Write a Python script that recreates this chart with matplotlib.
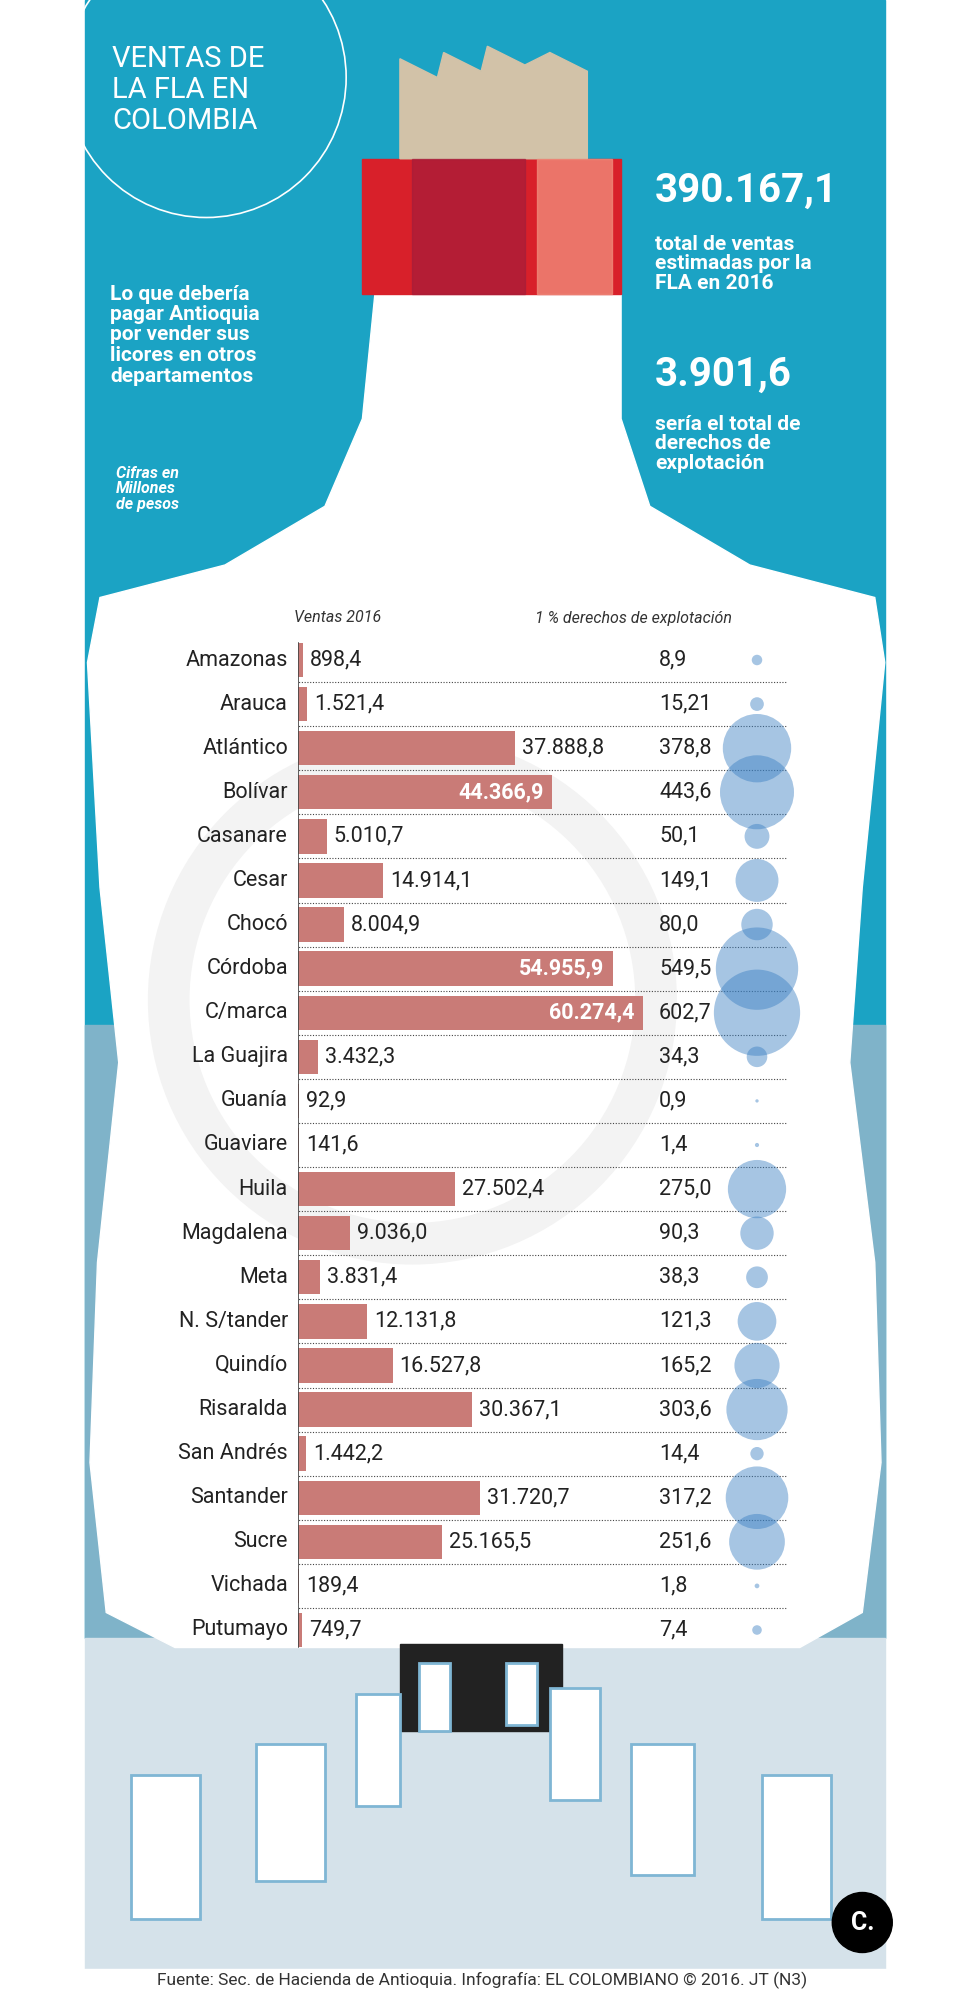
import matplotlib.pyplot as plt
from matplotlib.patches import Polygon, Circle, Rectangle
import numpy as np

plt.rcParams['font.family'] = ['Roboto', 'DejaVu Sans']

departamentos = ['Amazonas', 'Arauca', 'Atlántico', 'Bolívar', 'Casanare', 'Cesar', 'Chocó',
                 'Córdoba', 'C/marca', 'La Guajira', 'Guanía', 'Guaviare', 'Huila', 'Magdalena',
                 'Meta', 'N. S/tander', 'Quindío', 'Risaralda', 'San Andrés', 'Santander',
                 'Sucre', 'Vichada', 'Putumayo']
ventas = [898.4, 1521.4, 37888.8, 44366.9, 5010.7, 14914.1, 8004.9, 54955.9, 60274.4,
          3432.3, 92.9, 141.6, 27502.4, 9036.0, 3831.4, 12131.8, 16527.8, 30367.1,
          1442.2, 31720.7, 25165.5, 189.4, 749.7]
derechos = [8.9, 15.21, 378.8, 443.6, 50.1, 149.1, 80.0, 549.5, 602.7, 34.3, 0.9, 1.4,
            275.0, 90.3, 38.3, 121.3, 165.2, 303.6, 14.4, 317.2, 251.6, 1.8, 7.4]
ventas_txt = ['898,4', '1.521,4', '37.888,8', '44.366,9', '5.010,7', '14.914,1', '8.004,9',
              '54.955,9', '60.274,4', '3.432,3', '92,9', '141,6', '27.502,4', '9.036,0',
              '3.831,4', '12.131,8', '16.527,8', '30.367,1', '1.442,2', '31.720,7',
              '25.165,5', '189,4', '749,7']
derechos_txt = ['8,9', '15,21', '378,8', '443,6', '50,1', '149,1', '80,0', '549,5', '602,7',
                '34,3', '0,9', '1,4', '275,0', '90,3', '38,3', '121,3', '165,2', '303,6',
                '14,4', '317,2', '251,6', '1,8', '7,4']
dentro = ['Bolívar', 'Córdoba', 'C/marca']

# decoration layer in 773x1600 units
W, H = 773, 1600
fig = plt.figure(figsize=(9.66, 20), dpi=100)
bg = fig.add_axes([0, 0, 1, 1])
bg.set_xlim(0, W); bg.set_ylim(H, 0); bg.axis('off')

bg.add_patch(Rectangle((68, 0), 640, 1310, color='#1ba3c4'))
bg.add_patch(Rectangle((68, 820), 640, 490, color='#7fb3c9'))
bg.add_patch(Rectangle((68, 1310), 640, 265, color='#d5e2ea'))
body = [(300, 235), (497, 235), (497, 335), (520, 405), (600, 452), (700, 478), (708, 530),
        (690, 710), (680, 850), (700, 1010), (705, 1170), (690, 1290), (640, 1318),
        (140, 1318), (85, 1290), (72, 1170), (78, 1010), (95, 850), (80, 710), (70, 530),
        (80, 478), (180, 452), (260, 405), (290, 335)]
bg.add_patch(Polygon(body, closed=True, color='white', zorder=1))
bg.add_patch(Circle((330, 800), 195, fill=False, ec='#f3f3f3', lw=30, zorder=1.1))
bg.add_patch(Rectangle((290, 127), 207, 108, color='#d8202a', zorder=2))
bg.add_patch(Rectangle((330, 127), 90, 108, color='#a51d3b', zorder=2.1, alpha=0.7))
bg.add_patch(Rectangle((430, 127), 60, 108, color='#f08a7a', zorder=2.1, alpha=0.8))
bg.add_patch(Polygon([(320, 127), (320, 47), (350, 62), (355, 42), (385, 57), (390, 37),
                      (420, 52), (440, 42), (470, 57), (470, 127)], color='#d2c2a8', zorder=2))
for cx, cy, w_, h_ in [(105, 1420, 55, 115), (205, 1395, 55, 110), (285, 1355, 35, 90),
                       (335, 1330, 25, 55), (405, 1330, 25, 50), (440, 1350, 40, 90),
                       (505, 1395, 50, 105), (610, 1420, 55, 115)]:
    bg.add_patch(Rectangle((cx, cy), w_, h_, fc='white', ec='#7fb6d4', lw=2, zorder=3))
bg.add_patch(Rectangle((320, 1315), 130, 70, color='#222222', zorder=2))
bg.add_patch(Rectangle((0, 1575), W, 25, color='white', zorder=4))

bg.add_patch(Circle((165, 62), 112, fill=False, ec='white', lw=1.2, zorder=3))
bg.text(90, 72, 'VENTAS DE\nLA FLA EN\nCOLOMBIA', color='white', fontsize=21,
        va='center', ha='left', linespacing=1.15, zorder=5)
bg.text(88, 268, 'Lo que debería\npagar Antioquia\npor vender sus\nlicores en otros\ndepartamentos',
        color='white', fontsize=15, fontweight='bold', va='center', linespacing=1.1, zorder=5)
bg.text(93, 391, 'Cifras en\nMillones\nde pesos', color='white', fontsize=11.5,
        fontweight='bold', style='italic', va='center', linespacing=1.05, zorder=5)
bg.text(524, 153, '390.167,1', color='white', fontsize=29, fontweight='bold', va='center', zorder=5)
bg.text(524, 211, 'total de ventas\nestimadas por la\nFLA en 2016', color='white',
        fontsize=15, fontweight='bold', va='center', linespacing=1.05, zorder=5)
bg.text(524, 300, '3.901,6', color='white', fontsize=29, fontweight='bold', va='center', zorder=5)
bg.text(524, 355, 'sería el total de\nderechos de\nexplotación', color='white',
        fontsize=15, fontweight='bold', va='center', linespacing=1.05, zorder=5)
bg.text(235, 498, 'Ventas 2016', fontsize=11.5, style='italic', color='#333333', zorder=5)
bg.text(428, 498, '1 % derechos de explotación', fontsize=11.5, style='italic', color='#333333', zorder=5)
bg.text(386, 1584, 'Fuente: Sec. de Hacienda de Antioquia. Infografía: EL COLOMBIANO © 2016. JT (N3)',
        fontsize=12.5, ha='center', va='center', color='#333333', zorder=5)
bg.add_patch(Circle((690, 1538), 24, color='black', zorder=6))
bg.text(690, 1538, 'C.', color='white', fontsize=18, fontweight='bold', ha='center', va='center', zorder=7)

# bar chart, placed in original 966x2000 pixels
PW, PH = 966, 2000
x0, xend = 298, 643
step = (1630 - 660) / 22
top, bot = 660 - step / 2, 1630 + step / 2
ax = fig.add_axes([x0 / PW, 1 - bot / PH, (PW - x0) / PW, (bot - top) / PH])
scale = max(ventas) / (xend - x0)
ax.set_xlim(0, (PW - x0) * scale)
ax.set_ylim(len(departamentos) - 0.5, -0.5)
ax.axis('off')
ax.patch.set_alpha(0)
y = np.arange(len(departamentos))
ax.hlines(y[:-1] + 0.5, (168 - x0) * scale, (787 - x0) * scale, colors='#444444',
          linestyles=(0, (1, 1.5)), lw=0.8, zorder=2)
ax.barh(y, ventas, height=0.78, color='#c97b77', zorder=3)
ax.axvline(0, color='#444444', lw=1.2, ymin=0.005, ymax=0.995, zorder=4)
for i, (d, v) in enumerate(zip(departamentos, ventas)):
    ax.text(-10 * scale, i, d, ha='right', va='center', fontsize=15.5, color='#222222')
    if d in dentro:
        ax.text(v - 8 * scale, i, ventas_txt[i], ha='right', va='center', fontsize=15.5,
                color='white', fontweight='bold')
    else:
        ax.text(v + 7 * scale, i, ventas_txt[i], ha='left', va='center', fontsize=15.5, color='#222222')
    ax.text((659 - x0) * scale, i, derechos_txt[i], ha='left', va='center', fontsize=15.5, color='#222222')
ax.scatter([(757 - x0) * scale] * len(y), y, s=np.array(derechos) * 6.4,
           color='#3a7fc2', alpha=0.45, edgecolor='none', zorder=5)

fig.savefig('out.png', dpi=100)
